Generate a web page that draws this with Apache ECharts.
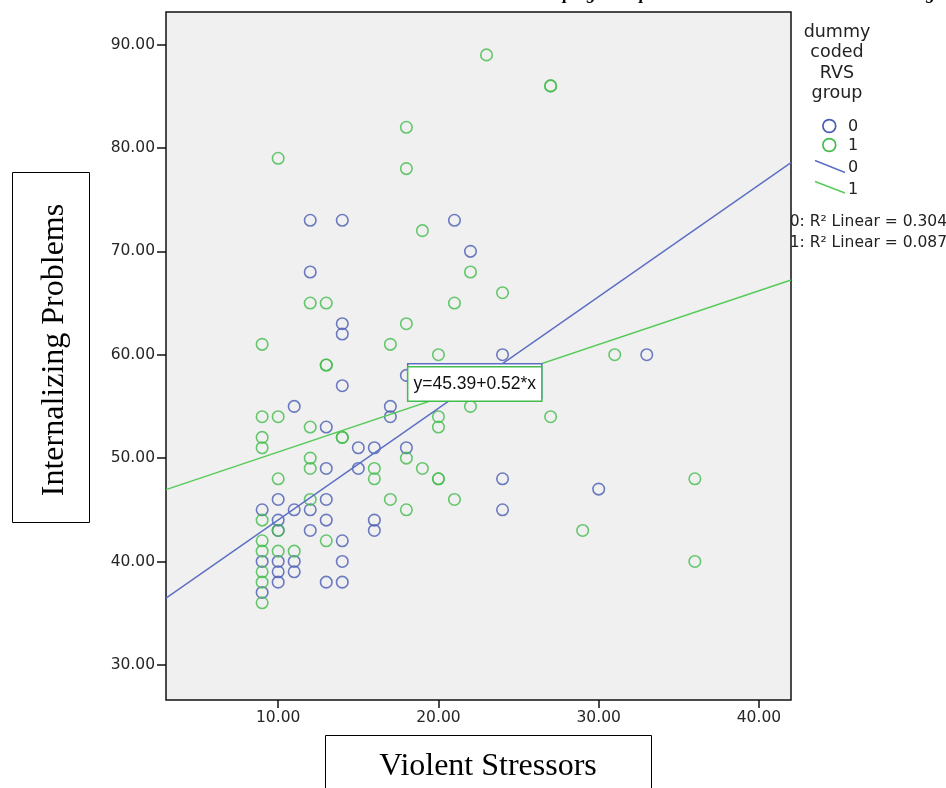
<!DOCTYPE html>
<html>
<head>
<meta charset="utf-8">
<script src="https://cdn.jsdelivr.net/npm/echarts@6/dist/echarts.min.js"></script>
<style>
html,body{margin:0;padding:0;background:#fff;}
#chart{width:946px;height:788px;}
</style>
</head>
<body>
<div id="chart"></div>
<script>
// ---- data ----
const xStressTicks = [10, 20, 30, 40];
const yInternTicks = [30, 40, 50, 60, 70, 80, 90];

// group 0 (blue)
const group0Stress = [9,9,9, 10,10,10,10,10,10, 11,11,11,11, 12,12,12,12, 13,13,13,13,13, 14,14,14,14,14,14,14, 15,15, 16,16,16, 17,17, 18,18, 21, 22, 24,24,24, 30, 33];
const group0Intern = [45,40,37, 46,44,43,40,39,38, 55,45,40,39, 73,68,45,43, 53,49,46,44,38, 73,63,62,57,42,40,38, 51,49, 51,44,43, 55,54, 58,51, 73, 70, 60,48,45, 47, 60];

// group 1 (green)
const group1Stress = [9,9,9,9,9,9,9,9,9,9, 10,10,10,10,10, 11, 12,12,12,12,12, 13,13,13,13, 14,14, 16,16, 17,17, 18,18,18,18,18, 19,19, 20,20,20,20,20, 21,21, 22,22, 23, 24, 27,27,27, 29, 31, 36,36];
const group1Intern = [61,54,52,51,44,42,41,39,38,36, 79,54,48,43,41, 41, 65,53,50,49,46, 65,59,59,42, 52,52, 49,48, 61,46, 82,78,63,50,45, 72,49, 60,54,53,48,48, 65,46, 68,55, 89, 66, 86,86,54, 43, 60, 48,40];

// linear fit coefficients per group [group0, group1]
const fitIntercept = [33.22, 45.39];
const fitSlope = [1.08, 0.52];
const fitR2 = ['0.304', '0.087'];
const groupNames = ['0', '1'];

// axis ranges
const xRange = [3, 42];
const yRange = [26.6, 93.15];

// ---- styles ----
const BLUE = '#4a5cb4';
const GREEN = '#42bd4c';
const BLUE_LINE = '#5b6ec4';
const GREEN_LINE = '#55cb57';
const TICK_FONT = 'DejaVu Sans';

function pairs(xs, ys) { return xs.map((x, i) => [x, ys[i]]); }
function fitLine(g) { return xRange.map(x => [x, fitIntercept[g] + fitSlope[g] * x]); }
function eqText(g) { return 'y=' + fitIntercept[g].toFixed(2) + '+' + fitSlope[g].toFixed(2) + '*x'; }

const chart = echarts.init(document.getElementById('chart'), null, {renderer: 'canvas'});

function eqMark(g, color, coord) {
  return {
    silent: true,
    symbol: 'rect',
    symbolSize: 1,
    itemStyle: {color: 'rgba(0,0,0,0)'},
    data: [{
      coord: coord,
      label: {
        show: true,
        position: [0, 0],
        align: 'left',
        verticalAlign: 'top',
        formatter: eqText(g),
        fontFamily: 'Liberation Sans',
        fontSize: 17.5,
        lineHeight: 20,
        color: '#111',
        backgroundColor: '#ffffff',
        borderColor: color,
        borderWidth: 1.5,
        padding: [7, 5, 6, 5]
      }
    }]
  };
}

const option = {
  animation: false,
  backgroundColor: '#ffffff',
  grid: {
    left: 166, right: 155, top: 12, bottom: 88,
    show: true,
    backgroundColor: '#f0f0f0',
    borderColor: '#111',
    borderWidth: 1.5,
    containLabel: false,
    outerBoundsMode: 'none'
  },
  xAxis: {
    type: 'value',
    min: xRange[0], max: xRange[1],
    splitLine: {show: false},
    axisLine: {show: false},
    axisTick: {show: true, customValues: xStressTicks, length: 8, lineStyle: {color: '#111', width: 1.5}},
    axisLabel: {
      customValues: xStressTicks,
      formatter: v => v.toFixed(2),
      fontFamily: TICK_FONT, fontSize: 15.5, color: '#262626', margin: 10
    }
  },
  yAxis: {
    type: 'value',
    min: yRange[0], max: yRange[1],
    splitLine: {show: false},
    axisLine: {show: false},
    axisTick: {show: true, customValues: yInternTicks, length: 9, lineStyle: {color: '#111', width: 1.5}},
    axisLabel: {
      customValues: yInternTicks,
      formatter: v => v.toFixed(2),
      fontFamily: TICK_FONT, fontSize: 15.5, color: '#262626', margin: 11
    }
  },
  series: [
    {
      name: groupNames[0], type: 'scatter',
      data: pairs(group0Stress, group0Intern),
      symbol: 'circle', symbolSize: 11.5,
      itemStyle: {color: 'rgba(0,0,0,0)', borderColor: BLUE, borderWidth: 1.6},
      z: 2
    },
    {
      name: groupNames[1], type: 'scatter',
      data: pairs(group1Stress, group1Intern),
      symbol: 'circle', symbolSize: 11.5,
      itemStyle: {color: 'rgba(0,0,0,0)', borderColor: GREEN, borderWidth: 1.6},
      z: 2
    },
    {
      name: 'fit ' + groupNames[0], type: 'line',
      data: fitLine(0), showSymbol: false, symbol: 'none',
      lineStyle: {color: BLUE_LINE, width: 1.4},
      z: 3,
      markPoint: eqMark(0, BLUE_LINE, [18.16, 59.0])
    },
    {
      name: 'fit ' + groupNames[1], type: 'line',
      data: fitLine(1), showSymbol: false, symbol: 'none',
      lineStyle: {color: GREEN_LINE, width: 1.4},
      z: 3,
      markPoint: eqMark(1, GREEN, [18.16, 58.71])
    }
  ],
  graphic: [
    // cut-off title at the very top
    {
      type: 'text', left: 542, top: -15, silent: true,
      style: {
        text: 'Coping Group and Violent Stressors on Internalizing',
        font: 'italic bold 18px "Liberation Serif"',
        fill: '#000'
      }
    },
    // y axis title box
    {
      type: 'rect', silent: true,
      shape: {x: 12.5, y: 172.5, width: 77, height: 350},
      style: {fill: '#fff', stroke: '#000', lineWidth: 1}
    },
    {
      type: 'text', silent: true, x: 55, y: 350, rotation: Math.PI / 2,
      style: {
        text: 'Internalizing Problems',
        font: '32px "Liberation Serif"',
        fill: '#000', align: 'center', verticalAlign: 'middle'
      }
    },
    // x axis title box
    {
      type: 'rect', silent: true,
      shape: {x: 325.5, y: 735.5, width: 326, height: 60},
      style: {fill: '#fff', stroke: '#000', lineWidth: 1}
    },
    {
      type: 'text', silent: true, x: 488, y: 767,
      style: {
        text: 'Violent Stressors',
        font: '32px "Liberation Serif"',
        fill: '#000', align: 'center', verticalAlign: 'middle'
      }
    },
    // legend title
    {
      type: 'text', silent: true, x: 837, y: 22,
      style: {
        text: 'dummy\ncoded\nRVS\ngroup',
        font: '17.5px "DejaVu Sans"', lineHeight: 20.5,
        fill: '#222', align: 'center', verticalAlign: 'top'
      }
    },
    // legend: markers
    {type: 'circle', silent: true, shape: {cx: 829.3, cy: 126, r: 6.4}, style: {fill: 'none', stroke: BLUE, lineWidth: 1.7}},
    {type: 'text', silent: true, x: 848, y: 127, style: {text: groupNames[0], font: '16px "DejaVu Sans"', fill: '#222', verticalAlign: 'middle'}},
    {type: 'circle', silent: true, shape: {cx: 829.3, cy: 145, r: 6.4}, style: {fill: 'none', stroke: GREEN, lineWidth: 1.7}},
    {type: 'text', silent: true, x: 848, y: 146, style: {text: groupNames[1], font: '16px "DejaVu Sans"', fill: '#222', verticalAlign: 'middle'}},
    // legend: fit lines
    {type: 'line', silent: true, shape: {x1: 815, y1: 160.5, x2: 845, y2: 172.5}, style: {stroke: BLUE_LINE, lineWidth: 1.4}},
    {type: 'text', silent: true, x: 848, y: 168, style: {text: groupNames[0], font: '16px "DejaVu Sans"', fill: '#222', verticalAlign: 'middle'}},
    {type: 'line', silent: true, shape: {x1: 815, y1: 181.5, x2: 845, y2: 193}, style: {stroke: GREEN_LINE, lineWidth: 1.4}},
    {type: 'text', silent: true, x: 848, y: 190, style: {text: groupNames[1], font: '16px "DejaVu Sans"', fill: '#222', verticalAlign: 'middle'}},
    // R squared notes
    {type: 'text', silent: true, x: 947, y: 222, style: {text: groupNames[0] + ': R\u00b2 Linear = ' + fitR2[0], font: '15.5px "DejaVu Sans"', fill: '#222', align: 'right', verticalAlign: 'middle'}},
    {type: 'text', silent: true, x: 947, y: 242.5, style: {text: groupNames[1] + ': R\u00b2 Linear = ' + fitR2[1], font: '15.5px "DejaVu Sans"', fill: '#222', align: 'right', verticalAlign: 'middle'}}
  ]
};

chart.setOption(option);
</script>
</body>
</html>
